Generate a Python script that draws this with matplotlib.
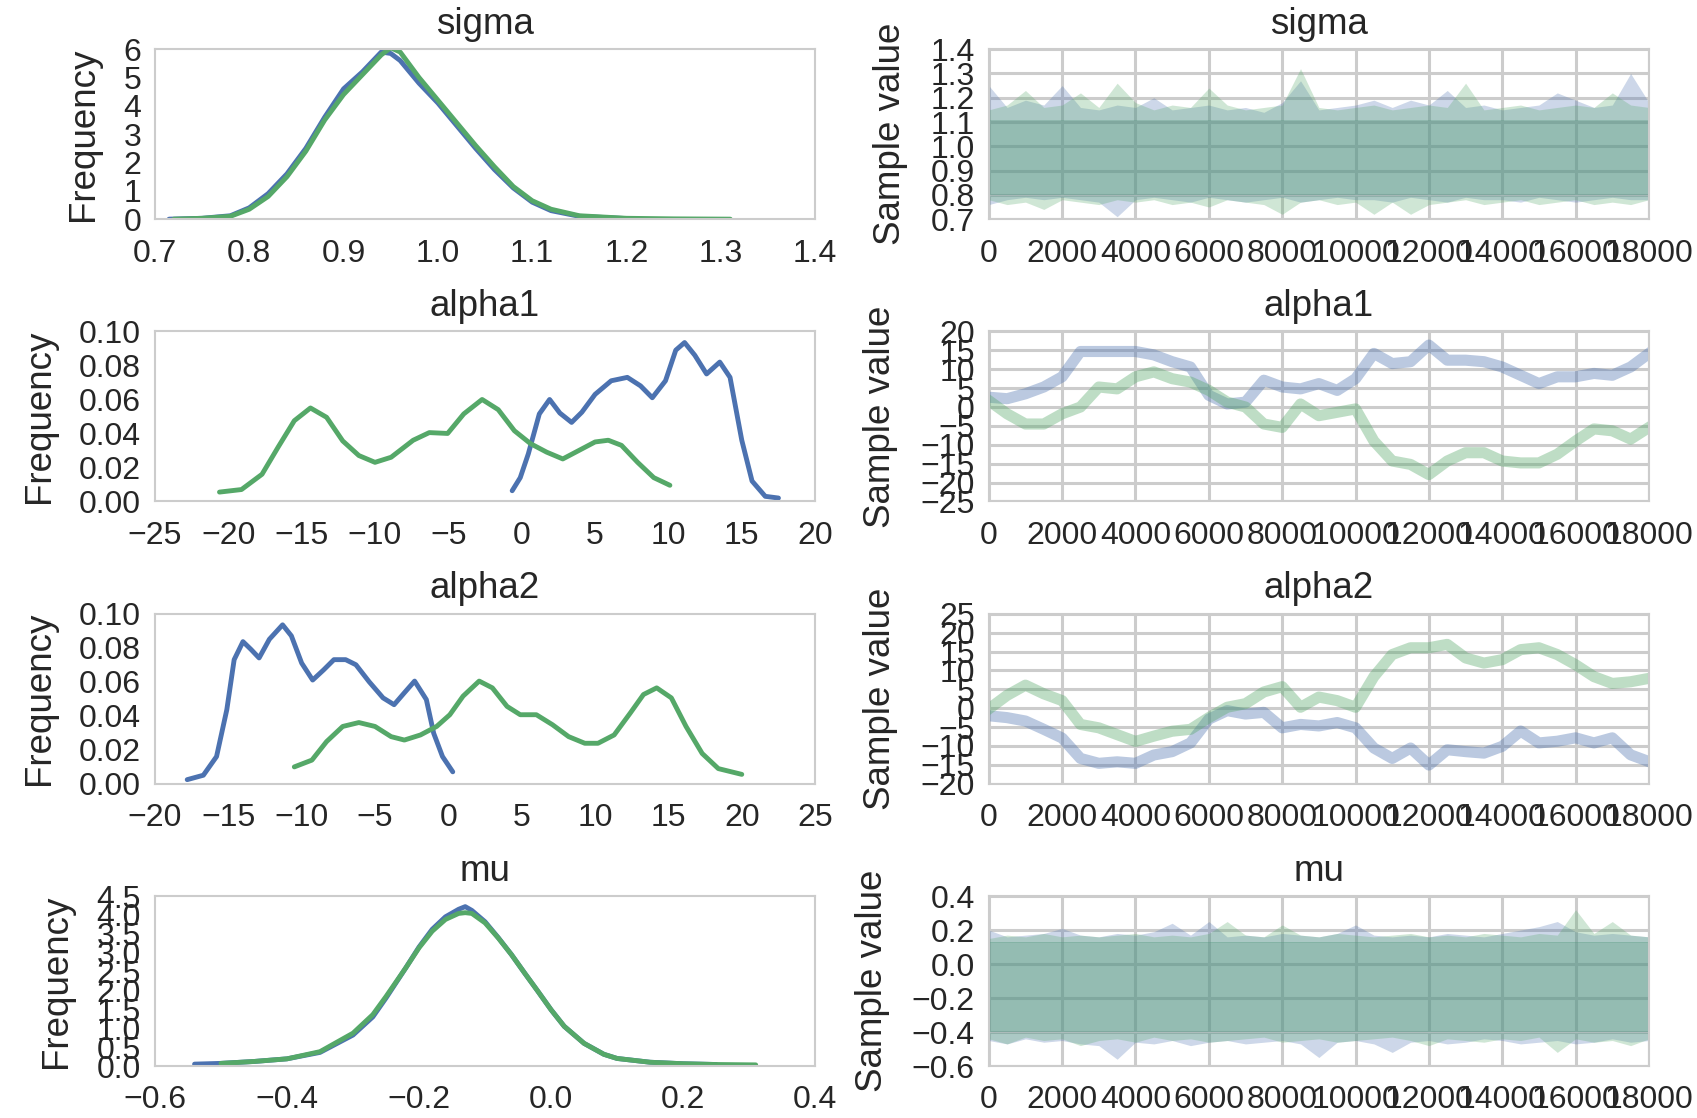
# -*- coding: utf-8 -*-

import numpy as np
import matplotlib
matplotlib.use("Agg")
import matplotlib.pyplot as plt


# --- KDE curves (left column) ---
sigma_kde_x_b = [0.715, 0.75, 0.78, 0.80, 0.82, 0.84, 0.86, 0.88, 0.90, 0.92, 0.94, 0.95,
                 0.96, 0.98, 1.00, 1.02, 1.04, 1.06, 1.08, 1.10, 1.12, 1.15, 1.20]
sigma_kde_y_b = [0.0, 0.03, 0.12, 0.4, 0.9, 1.6, 2.5, 3.6, 4.6, 5.2, 5.9, 5.85,
                 5.6, 4.8, 4.1, 3.3, 2.5, 1.75, 1.1, 0.6, 0.3, 0.1, 0.02]
sigma_kde_x_g = [0.72, 0.75, 0.78, 0.80, 0.82, 0.84, 0.86, 0.88, 0.90, 0.92, 0.94, 0.95,
                 0.96, 0.98, 1.00, 1.02, 1.04, 1.06, 1.08, 1.10, 1.12, 1.15, 1.20, 1.25, 1.31]
sigma_kde_y_g = [0.0, 0.03, 0.1, 0.35, 0.8, 1.5, 2.4, 3.5, 4.4, 5.1, 5.8, 6.05,
                 5.9, 5.0, 4.2, 3.4, 2.6, 1.85, 1.15, 0.65, 0.35, 0.12, 0.03, 0.01, 0.0]

alpha1_kde_x_b = [-0.65, -0.1, 0.45, 1.2, 1.9, 2.6, 3.4, 4.1, 5.0, 6.1, 7.2, 8.1, 8.9, 9.8,
                  10.5, 11.1, 11.8, 12.6, 13.5, 14.2, 15.0, 15.7, 16.6, 17.5]
alpha1_kde_y_b = [0.0063, 0.014, 0.028, 0.0515, 0.060, 0.052, 0.0465, 0.0525, 0.063, 0.071,
                  0.073, 0.068, 0.061, 0.071, 0.089, 0.0935, 0.086, 0.075, 0.082, 0.073,
                  0.036, 0.012, 0.003, 0.002]
alpha1_kde_x_g = [-20.6, -19.1, -17.7, -16.6, -15.5, -14.4, -13.3, -12.2, -11.1, -10.0, -8.9,
                  -7.4, -6.3, -5.05, -3.95, -2.7, -1.6, -0.5, 0.6, 1.7, 2.8, 3.9, 5.0, 5.9,
                  6.8, 7.9, 9.0, 10.1]
alpha1_kde_y_g = [0.0055, 0.007, 0.016, 0.032, 0.0475, 0.055, 0.0495, 0.0356, 0.027, 0.023,
                  0.026, 0.036, 0.0405, 0.040, 0.0515, 0.060, 0.054, 0.0416, 0.034, 0.029,
                  0.025, 0.030, 0.035, 0.036, 0.033, 0.023, 0.014, 0.0095]

alpha2_kde_x_b = [-17.8, -16.7, -15.8, -15.1, -14.6, -14.0, -13.45, -12.9, -12.2, -11.3,
                  -10.7, -10.0, -9.25, -8.5, -7.8, -7.0, -6.3, -5.4, -4.45, -3.7, -3.0,
                  -2.3, -1.5, -1.0, -0.4, 0.3]
alpha2_kde_y_b = [0.0024, 0.005, 0.016, 0.0436, 0.073, 0.0836, 0.079, 0.074, 0.085, 0.0935,
                  0.087, 0.071, 0.061, 0.067, 0.073, 0.073, 0.070, 0.060, 0.0505, 0.0465,
                  0.0535, 0.0604, 0.0495, 0.0297, 0.016, 0.007]
alpha2_kde_x_g = [-10.5, -9.3, -8.3, -7.2, -6.1, -5.0, -3.9, -3.0, -1.9, -0.8, 0.1, 1.0, 2.1,
                  3.0, 4.0, 4.9, 6.0, 7.1, 8.2, 9.3, 10.2, 11.3, 12.4, 13.3, 14.2, 15.2,
                  16.2, 17.3, 18.4, 20.0]
alpha2_kde_y_g = [0.0099, 0.0139, 0.0248, 0.0337, 0.036, 0.0337, 0.0277, 0.0257, 0.0287,
                  0.0337, 0.0406, 0.0515, 0.0604, 0.0564, 0.0455, 0.0406, 0.0406, 0.0347,
                  0.0277, 0.0238, 0.0238, 0.0287, 0.0416, 0.0525, 0.0564, 0.0505, 0.0337,
                  0.0178, 0.0089, 0.0055]

mu_kde_x_b = [-0.54, -0.50, -0.45, -0.40, -0.35, -0.30, -0.27, -0.25, -0.22, -0.20, -0.18,
              -0.16, -0.14, -0.13, -0.12, -0.10, -0.08, -0.06, -0.04, -0.02, 0.0, 0.02,
              0.05, 0.08, 0.10, 0.15, 0.20, 0.25]
mu_kde_y_b = [0.05, 0.07, 0.12, 0.19, 0.36, 0.82, 1.30, 1.80, 2.60, 3.15, 3.62, 3.95, 4.15,
              4.22, 4.12, 3.82, 3.40, 2.95, 2.46, 1.98, 1.49, 1.05, 0.60, 0.31, 0.20, 0.10,
              0.06, 0.04]
mu_kde_x_g = [-0.50, -0.45, -0.40, -0.35, -0.30, -0.27, -0.25, -0.22, -0.20, -0.18, -0.16,
              -0.14, -0.13, -0.12, -0.10, -0.08, -0.06, -0.04, -0.02, 0.0, 0.02, 0.05,
              0.08, 0.10, 0.15, 0.20, 0.25, 0.31]
mu_kde_y_g = [0.07, 0.12, 0.19, 0.38, 0.87, 1.36, 1.84, 2.60, 3.13, 3.57, 3.88, 4.04, 4.06,
              4.04, 3.79, 3.39, 2.95, 2.46, 1.98, 1.49, 1.05, 0.60, 0.31, 0.20, 0.10, 0.06,
              0.04, 0.03]

# --- traces (right column), values every 500 iterations ---
iters = list(range(0, 18001, 500))

# sigma: envelope of the noisy trace (max / min per block) plus dense core
sigma_core = (0.80, 1.11)
sigma_hi_b = [1.25, 1.16, 1.19, 1.17, 1.25, 1.16, 1.15, 1.17, 1.16, 1.20, 1.15, 1.16, 1.17,
              1.15, 1.16, 1.14, 1.18, 1.27, 1.15, 1.16, 1.17, 1.19, 1.16, 1.19, 1.17, 1.23,
              1.16, 1.17, 1.15, 1.16, 1.17, 1.22, 1.19, 1.16, 1.17, 1.30, 1.18]
sigma_lo_b = [0.76, 0.78, 0.79, 0.78, 0.79, 0.78, 0.77, 0.71, 0.78, 0.79, 0.78, 0.77, 0.79,
              0.78, 0.77, 0.78, 0.79, 0.77, 0.78, 0.79, 0.78, 0.78, 0.77, 0.79, 0.78, 0.77,
              0.79, 0.78, 0.78, 0.77, 0.79, 0.78, 0.77, 0.78, 0.79, 0.78, 0.78]
sigma_hi_g = [1.15, 1.17, 1.23, 1.16, 1.17, 1.22, 1.16, 1.26, 1.18, 1.15, 1.17, 1.16, 1.24,
              1.17, 1.15, 1.16, 1.17, 1.32, 1.16, 1.15, 1.16, 1.17, 1.15, 1.16, 1.17, 1.16,
              1.26, 1.15, 1.16, 1.17, 1.15, 1.16, 1.17, 1.16, 1.22, 1.17, 1.16]
sigma_lo_g = [0.78, 0.76, 0.77, 0.74, 0.78, 0.77, 0.76, 0.78, 0.77, 0.78, 0.76, 0.77, 0.75,
              0.78, 0.77, 0.76, 0.72, 0.77, 0.78, 0.76, 0.77, 0.72, 0.77, 0.72, 0.76, 0.77,
              0.78, 0.76, 0.77, 0.78, 0.76, 0.77, 0.78, 0.76, 0.77, 0.76, 0.78]

alpha1_tr_b = [2.6, 2.2, 3.5, 5.3, 8.0, 14.7, 14.7, 14.7, 14.7, 13.8, 12.0, 10.6, 3.1, 0.8,
               1.3, 7.1, 5.3, 4.8, 6.2, 4.4, 7.5, 14.2, 11.5, 12.0, 16.4, 12.4, 12.4, 12.0,
               10.6, 8.4, 6.2, 8.0, 8.0, 8.9, 8.4, 10.6, 14.2]
alpha1_tr_g = [1.7, -1.8, -4.5, -4.5, -1.8, 0.0, 5.3, 4.8, 8.0, 9.3, 7.5, 6.6, 4.4, 1.3,
               0.0, -4.5, -5.4, 0.8, -2.3, -1.4, -0.5, -9.0, -14.3, -15.2, -17.9, -14.3,
               -12.1, -12.1, -14.3, -14.8, -14.8, -12.5, -9.0, -5.8, -6.3, -8.5, -5.4]

alpha2_tr_b = [-2.0, -2.5, -3.4, -5.6, -7.9, -13.3, -14.6, -14.2, -14.6, -12.4, -11.5, -9.2,
               -2.9, -0.65, -1.55, -1.1, -5.2, -4.3, -4.7, -3.8, -5.2, -10.55, -13.3, -10.55,
               -15.05, -11.0, -11.5, -11.9, -10.1, -6.05, -9.2, -8.75, -7.85, -9.2, -7.85,
               -12.35, -14.15]
alpha2_tr_g = [-0.2, 3.4, 6.1, 3.8, 2.0, -4.3, -5.2, -7.0, -8.8, -7.4, -6.1, -5.6, -2.5,
               0.25, 1.2, 4.3, 5.7, 0.25, 2.95, 2.0, 0.25, 8.35, 14.2, 16.0, 16.0, 16.9, 13.3,
               11.95, 12.85, 15.5, 16.0, 14.2, 11.5, 8.35, 6.55, 7.0, 7.9]

mu_core = (-0.40, 0.13)
mu_hi_b = [0.20, 0.16, 0.17, 0.18, 0.21, 0.17, 0.16, 0.18, 0.17, 0.19, 0.24, 0.17, 0.25,
           0.16, 0.17, 0.16, 0.18, 0.17, 0.16, 0.18, 0.23, 0.17, 0.16, 0.17, 0.16, 0.18,
           0.17, 0.16, 0.18, 0.20, 0.22, 0.25, 0.19, 0.17, 0.18, 0.17, 0.16]
mu_lo_b = [-0.45, -0.47, -0.44, -0.46, -0.45, -0.47, -0.48, -0.56, -0.46, -0.47, -0.45,
           -0.48, -0.46, -0.45, -0.47, -0.46, -0.45, -0.47, -0.55, -0.46, -0.45, -0.47,
           -0.52, -0.46, -0.45, -0.47, -0.46, -0.44, -0.45, -0.47, -0.46, -0.45, -0.47,
           -0.46, -0.44, -0.46, -0.45]
mu_hi_g = [0.15, 0.17, 0.16, 0.18, 0.16, 0.17, 0.16, 0.17, 0.18, 0.16, 0.17, 0.16, 0.18,
           0.25, 0.17, 0.16, 0.23, 0.17, 0.16, 0.18, 0.17, 0.16, 0.17, 0.18, 0.16, 0.17,
           0.16, 0.18, 0.17, 0.16, 0.18, 0.17, 0.32, 0.18, 0.25, 0.17, 0.16]
mu_lo_g = [-0.44, -0.47, -0.43, -0.45, -0.44, -0.48, -0.45, -0.44, -0.46, -0.43, -0.45,
           -0.44, -0.46, -0.45, -0.44, -0.43, -0.46, -0.45, -0.44, -0.46, -0.45, -0.44,
           -0.43, -0.45, -0.48, -0.44, -0.45, -0.46, -0.44, -0.45, -0.43, -0.52, -0.44,
           -0.46, -0.45, -0.48, -0.44]

# --- axes ranges / ticks ---
names = ["sigma", "alpha1", "alpha2", "mu"]
kde_xticks = [[0.7, 0.8, 0.9, 1.0, 1.1, 1.2, 1.3, 1.4],
              [-25, -20, -15, -10, -5, 0, 5, 10, 15, 20],
              [-20, -15, -10, -5, 0, 5, 10, 15, 20, 25],
              [-0.6, -0.4, -0.2, 0.0, 0.2, 0.4]]
kde_yticks = [[0, 1, 2, 3, 4, 5, 6],
              [0.00, 0.02, 0.04, 0.06, 0.08, 0.10],
              [0.00, 0.02, 0.04, 0.06, 0.08, 0.10],
              [0.0, 0.5, 1.0, 1.5, 2.0, 2.5, 3.0, 3.5, 4.0, 4.5]]
kde_xfmt = ["%.1f", "%d", "%d", "%.1f"]
kde_yfmt = ["%d", "%.2f", "%.2f", "%.1f"]
trace_yticks = [[0.7, 0.8, 0.9, 1.0, 1.1, 1.2, 1.3, 1.4],
                [-25, -20, -15, -10, -5, 0, 5, 10, 15, 20],
                [-20, -15, -10, -5, 0, 5, 10, 15, 20, 25],
                [-0.6, -0.4, -0.2, 0.0, 0.2, 0.4]]
trace_yfmt = ["%.1f", "%d", "%d", "%.1f"]
trace_xticks = list(range(0, 18001, 2000))

BLUE = "#4C72B0"
GREEN = "#55A868"
TXT = "#262626"
EDGE = "#cccccc"

plt.rcParams["font.family"] = ["Liberation Sans", "DejaVu Sans"]
plt.rcParams["axes.unicode_minus"] = True

fig, axes = plt.subplots(4, 2, figsize=(16.97, 11.18), dpi=100)
plt.subplots_adjust(left=0.0913, right=0.9717, bottom=0.0465, top=0.956,
                    wspace=0.263, hspace=0.661)

TICK = 23
LABEL = 26.5


def fmt(vals, f):
    out = []
    for v in vals:
        s = f % v
        out.append(s.replace("-", "\u2212"))
    return out


def style(ax, grid):
    ax.set_facecolor("white")
    for sp in ax.spines.values():
        sp.set_color(EDGE)
        sp.set_linewidth(1.5)
    ax.tick_params(length=0, labelsize=TICK, colors=TXT)
    ax.tick_params(axis="x", pad=14)
    ax.tick_params(axis="y", pad=10)
    if grid:
        ax.grid(True, color=EDGE, linewidth=2.2, zorder=0)
        ax.set_axisbelow(True)
    else:
        ax.grid(False)


kde_b = [(sigma_kde_x_b, sigma_kde_y_b), (alpha1_kde_x_b, alpha1_kde_y_b),
         (alpha2_kde_x_b, alpha2_kde_y_b), (mu_kde_x_b, mu_kde_y_b)]
kde_g = [(sigma_kde_x_g, sigma_kde_y_g), (alpha1_kde_x_g, alpha1_kde_y_g),
         (alpha2_kde_x_g, alpha2_kde_y_g), (mu_kde_x_g, mu_kde_y_g)]

for i in range(4):
    ax = axes[i, 0]
    style(ax, False)
    ax.plot(kde_b[i][0], kde_b[i][1], color=BLUE, lw=3.5, solid_capstyle="round",
            solid_joinstyle="round")
    ax.plot(kde_g[i][0], kde_g[i][1], color=GREEN, lw=3.5, solid_capstyle="round",
            solid_joinstyle="round")
    xt = kde_xticks[i]
    yt = kde_yticks[i]
    ax.set_xlim(xt[0], xt[-1])
    ax.set_ylim(yt[0], yt[-1])
    ax.set_xticks(xt)
    ax.set_xticklabels(fmt(xt, kde_xfmt[i]))
    ax.set_yticks(yt)
    ax.set_yticklabels(fmt(yt, kde_yfmt[i]))
    ax.set_title(names[i], fontsize=LABEL, color=TXT, pad=11)
    ax.set_ylabel("Frequency", fontsize=LABEL, color=TXT, labelpad=16)


def noisy(ax, hi, lo, core, color):
    ax.fill_between(iters, core[0], core[1], color=color, alpha=0.38, lw=0, zorder=2)
    ax.fill_between(iters, core[1], hi, color=color, alpha=0.28, lw=0, zorder=2)
    ax.fill_between(iters, lo, core[0], color=color, alpha=0.28, lw=0, zorder=2)


noisy(axes[0, 1], sigma_hi_b, sigma_lo_b, sigma_core, BLUE)
noisy(axes[0, 1], sigma_hi_g, sigma_lo_g, sigma_core, GREEN)
axes[1, 1].plot(iters, alpha1_tr_b, color=BLUE, alpha=0.38, lw=8, solid_joinstyle="round")
axes[1, 1].plot(iters, alpha1_tr_g, color=GREEN, alpha=0.38, lw=8, solid_joinstyle="round")
axes[2, 1].plot(iters, alpha2_tr_b, color=BLUE, alpha=0.38, lw=8, solid_joinstyle="round")
axes[2, 1].plot(iters, alpha2_tr_g, color=GREEN, alpha=0.38, lw=8, solid_joinstyle="round")
noisy(axes[3, 1], mu_hi_b, mu_lo_b, mu_core, BLUE)
noisy(axes[3, 1], mu_hi_g, mu_lo_g, mu_core, GREEN)

for i in range(4):
    ax = axes[i, 1]
    style(ax, True)
    yt = trace_yticks[i]
    ax.set_xlim(0, 18000)
    ax.set_ylim(yt[0], yt[-1])
    ax.set_xticks(trace_xticks)
    ax.set_xticklabels([str(v) for v in trace_xticks])
    ax.set_yticks(yt)
    ax.set_yticklabels(fmt(yt, trace_yfmt[i]))
    ax.set_title(names[i], fontsize=LABEL, color=TXT, pad=11)
    ax.set_ylabel("Sample value", fontsize=LABEL, color=TXT, labelpad=16)

fig.savefig("out.png", dpi=100, facecolor="white")
